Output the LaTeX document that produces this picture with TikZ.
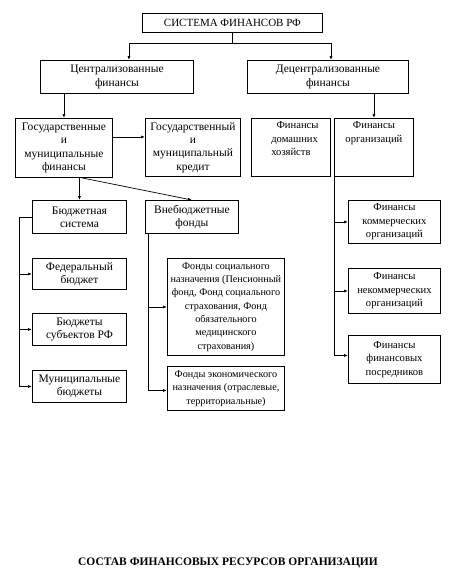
\documentclass[tikz,border=0pt]{standalone}
\usepackage{fontspec}
\setmainfont{Liberation Serif}
\usetikzlibrary{arrows.meta}

\tikzset{
    box/.style={draw, line width=.9pt, align=center, anchor=north west, inner sep=1pt,
        font=\fontsize{11.5}{13.3}\selectfont},
    smallbox/.style={box, font=\fontsize{10.2}{13.3}\selectfont},
    arr/.style={line width=.7pt, -{Latex[length=4pt,width=3pt]}},
    link/.style={line width=.7pt}
}

\begin{document}
\begin{tikzpicture}[x=1pt, y=-1pt]
    \useasboundingbox (0,0) rectangle (452,574);

    % Top levels
    \node[box, font=\fontsize{11}{13}\selectfont, minimum width=180pt, minimum height=19pt] (sys) at (142,13) {СИСТЕМА ФИНАНСОВ РФ};
    \node[box, minimum width=153pt, minimum height=33pt] (central) at (40,60) {Централизованные\\финансы};
    \node[box, minimum width=161pt, minimum height=33pt] (decentral) at (247,60) {Децентрализованные\\финансы};

    % Third row
    \node[box, minimum width=97pt, minimum height=59pt] (gos) at (15,118) {Государственные\\и\\муниципальные\\финансы};
    \node[box, minimum width=95pt, minimum height=58pt] (credit) at (145,118) {Государственный\\и\\муниципальный\\кредит};
    \node[smallbox, font=\fontsize{10.6}{13.4}\selectfont, minimum width=79pt, minimum height=58pt, align=left] (home) at (251,118) {\quad\ Финансы\\\ \ \ домашних\\\ \ \ хозяйств\\\strut};
    \node[smallbox, font=\fontsize{10.6}{13.4}\selectfont, minimum width=79pt, minimum height=58pt] (org) at (334,118) {Финансы\\организаций\\\strut\\\strut};

    % Budget column
    \node[box, minimum width=94pt, minimum height=33pt] (budget) at (32,200) {Бюджетная\\система};
    \node[box, minimum width=94pt, minimum height=31pt] (federal) at (32,258) {Федеральный\\бюджет};
    \node[box, minimum width=94pt, minimum height=32pt] (regional) at (32,313) {Бюджеты\\субъектов РФ};
    \node[box, minimum width=94pt, minimum height=32pt] (municipal) at (32,370) {Муниципальные\\бюджеты};

    % Extra-budgetary funds column
    \node[box, minimum width=93pt, minimum height=33pt] (extra) at (145,200) {Внебюджетные\\фонды};
    \node[smallbox, minimum width=117pt, minimum height=97pt] (social) at (167,258) {Фонды социального\\назначения (Пенсионный\\фонд, Фонд социального\\страхования, Фонд\\обязательного\\медицинского\\страхования)};
    \node[smallbox, minimum width=117pt, minimum height=44pt] (economic) at (167,366) {Фонды экономического\\назначения (отраслевые,\\территориальные)};

    % Organisation finance column
    \node[smallbox, font=\fontsize{10.6}{13.6}\selectfont, minimum width=92pt, minimum height=43pt] (commercial) at (348,200) {Финансы\\коммерческих\\организаций};
    \node[smallbox, font=\fontsize{10.6}{13.6}\selectfont, minimum width=92pt, minimum height=45pt] (noncommercial) at (348,268) {Финансы\\некоммерческих\\организаций};
    \node[smallbox, font=\fontsize{10.6}{13.6}\selectfont, minimum width=92pt, minimum height=48pt] (intermediary) at (348,335) {Финансы\\финансовых\\посредников};

    % Title
    \node[font=\fontsize{11.5}{13}\selectfont\bfseries] (title) at (228,563) {СОСТАВ ФИНАНСОВЫХ РЕСУРСОВ ОРГАНИЗАЦИИ};

    % Connectors from the top box
    \coordinate (split) at (sys.south |- 0,43);
    \draw[link] (sys.south) -- (split);
    \draw[arr] (split) -| ([xshift=12pt]central.north);
    \draw[arr] (split) -| ([xshift=3pt]decentral.north);

    % Connectors to the third row
    \draw[arr] (central.south -| gos.north) -- (gos.north);
    \draw[arr] (decentral.south -| org.north) -- (org.north);
    \draw[arr] ([yshift=11pt]gos.east) -- ([yshift=11pt]gos.east -| credit.west);

    % Connectors to budget and funds
    \draw[arr] (gos.south -| budget.north) -- (budget.north);
    \draw[arr] ([xshift=18pt]gos.south) -- (extra.north);

    % Budget branches
    \draw[link] (budget.west) -- ++(-13,0) coordinate (bleft);
    \draw[arr] (bleft) |- (municipal.west);
    \draw[arr] (bleft |- federal.west) -- (federal.west);
    \draw[arr] (bleft |- regional.west) -- (regional.west);

    % Fund branches
    \coordinate (eleft) at ([xshift=3pt]extra.south west);
    \draw[arr] (eleft) |- ([yshift=-2pt]economic.west);
    \draw[arr] (eleft |- social.west) -- (social.west);

    % Organisation branches
    \draw[arr] (org.south west) |- ([yshift=4pt]intermediary.west);
    \draw[arr] (org.south west |- commercial.west) -- (commercial.west);
    \draw[arr] (org.south west |- noncommercial.west) -- (noncommercial.west);
\end{tikzpicture}
\end{document}
